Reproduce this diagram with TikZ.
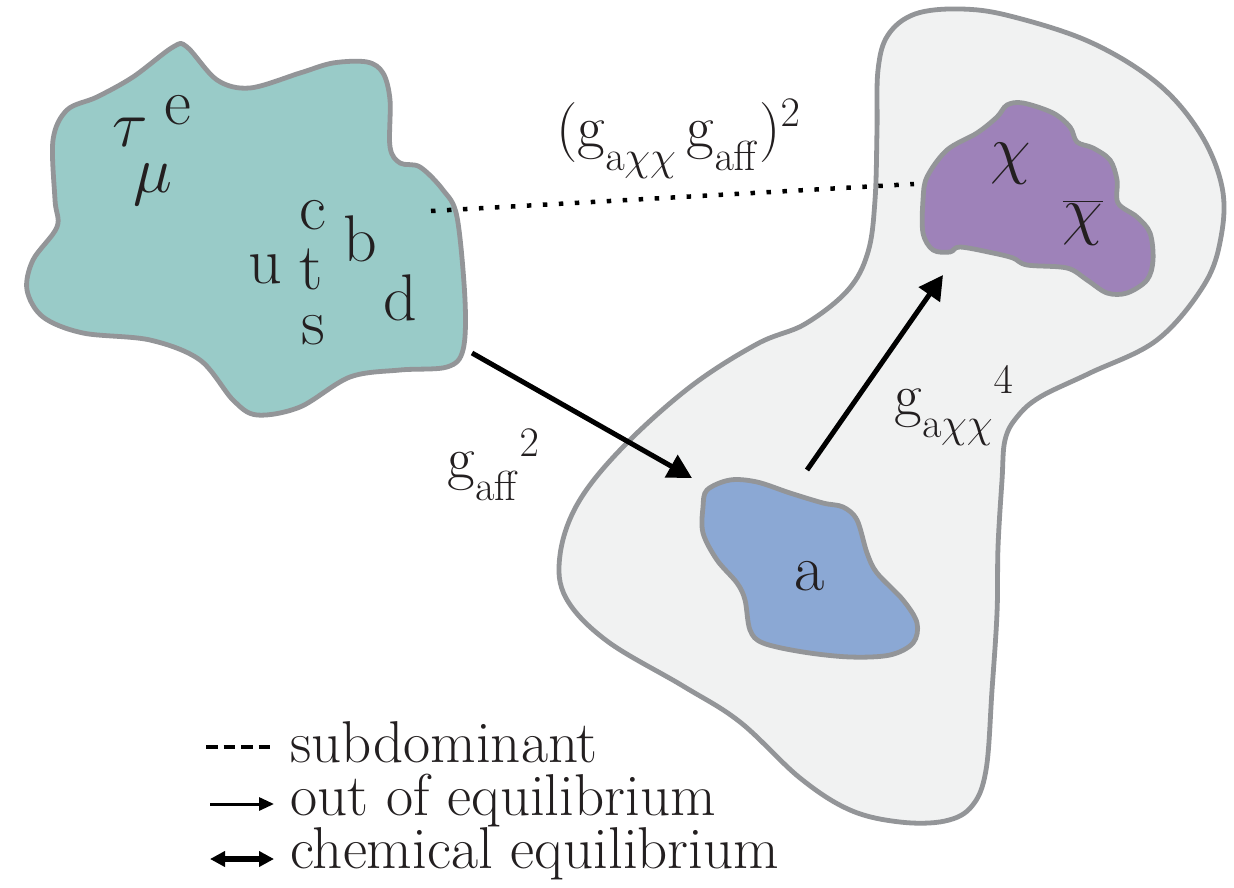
\RequirePackage{fix-cm}
\documentclass[tikz,border=0pt]{standalone}
\usetikzlibrary{arrows.meta}
\definecolor{bgrey}{RGB}{147,149,152}
\definecolor{cyanf}{RGB}{153,203,200}
\definecolor{purplef}{RGB}{158,130,185}
\definecolor{bluef}{RGB}{139,168,212}
\definecolor{greyf}{RGB}{241,242,242}
\definecolor{ink}{RGB}{35,31,32}
\newcommand\lsub[1]{_{\raisebox{-0.22em}{$\scriptstyle #1$}}}
\begin{document}
\begin{tikzpicture}[x=0.5pt,y=-0.5pt,
  blob/.style={draw=bgrey,line width=2.4pt,line join=round},
  lab/.style={font=\fontsize{33}{38}\selectfont,text=ink,inner sep=0pt,anchor=base},
  cpl/.style={font=\fontsize{30}{36}\selectfont,text=ink,inner sep=0pt,anchor=base west},
  leg/.style={font=\fontsize{29.5}{34}\selectfont,text=ink,inner sep=0pt,anchor=base west},
  flow/.style={line width=2.5pt,draw=black,-{Triangle[length=12pt,width=12.5pt]}},
  weak/.style={line width=2.25pt,dash pattern=on 2.25pt off 5.75pt}]
\useasboundingbox[fill=white] (0,0) rectangle (1234,887);

% big grey region
\draw[blob,fill=greyf] plot[smooth cycle,tension=0.6] coordinates {
 (878,70) (888,35) (915,14) (960,9) (1010,16) (1090,42) (1157,83) (1200,133)
 (1222,187) (1221,237) (1204,285) (1157,340) (1090,373) (1040,397) (1017,417)
 (1005,440) (1002,480) (998,547) (997,613) (992,690) (986,770) (972,806)
 (945,821) (900,822) (850,810) (800,778) (740,722) (683,686) (607,641)
 (566,598) (560,555) (578,503) (622,448) (690,387) (757,344) (805,324)
 (848,290) (868,252) (875,200) (877,130)};

% SM bath
\draw[blob,fill=cyanf] plot[smooth cycle,tension=0.55] coordinates {
 (67,110) (53,140) (55,200) (57,227) (33,260) (27,290) (43,317) (83,333)
 (150,340) (200,360) (233,400) (257,415) (300,407) (350,377) (400,370)
 (447,367) (463,350) (465,300) (457,217) (443,190) (420,167) (400,163)
 (390,147) (390,100) (383,73) (367,62) (333,63) (300,73) (250,88) (217,80)
 (187,47) (173,47) (133,77) (97,97)};

% dark sector
\draw[blob,fill=purplef] plot[smooth cycle,tension=0.55] coordinates {
 (923,200) (927,177) (947,150) (977,133) (997,117) (1007,105) (1023,103)
 (1053,113) (1070,127) (1077,142) (1093,148) (1110,160) (1117,180) (1118,203)
 (1137,217) (1150,233) (1153,260) (1147,280) (1127,293) (1107,293) (1087,280)
 (1067,268) (1027,265) (1013,258) (993,253) (960,247) (950,252) (933,250)
 (923,233)};

% axion
\draw[blob,fill=bluef] plot[smooth cycle,tension=0.55] coordinates {
 (707,490) (730,480) (757,482) (790,493) (823,503) (843,507) (857,520)
 (867,553) (877,573) (903,600) (917,623) (913,643) (890,655) (850,657)
 (803,652) (763,643) (750,630) (745,600) (737,583) (717,560) (703,533)
 (703,507)};

% particle labels
\node[lab] (tau) at (130,147) {$\tau$};
\node[lab] (e) at (178,125) {e};
\node[lab] (mu) at (153,193) {$\mu$};
\node[lab] (c) at (313,230) {c};
\node[lab] (b) at (360,262) {b};
\node[lab] (u) at (265,284) {u};
\node[lab] (t) at (311,290) {t};
\node[lab] (s) at (313,344) {s};
\node[lab] (d) at (400,320) {d};
\node[lab] (ax) at (810,590) {a};
\node[lab] (chi) at (1011,172) {$\chi$};
\node[lab] (chibar) at (1083,233) {$\overline{\chi}$};

% connector end points
\coordinate (smout) at (472,353);
\coordinate (axin) at (692,478);
\coordinate (axout) at (807,470);
\coordinate (chiin) at (943,275);
\coordinate (smdot) at (431,211);
\coordinate (chidot) at (914,184);

\draw[weak] (smdot) -- (chidot);
\draw[flow] (smout) -- (axin);
\draw[flow] (axout) -- (chiin);

% couplings
\node[cpl] (c1) at (556,148) {$(\mathrm{g}\lsub{\mathrm{a}\chi\chi}\,\mathrm{g}\lsub{\mathrm{aff}})^{2}$};
\node[cpl] (c2) at (447,478) {$\mathrm{g}\lsub{\mathrm{aff}}{}^{2}$};
\node[cpl] (c3) at (894,415) {$\mathrm{g}\lsub{\mathrm{a}\chi\chi}{}^{4}$};

% legend
\coordinate (l1a) at (206,747); \coordinate (l1b) at (271,747);
\coordinate (l2a) at (210,804); \coordinate (l2b) at (274,804);
\coordinate (l3a) at (210,859); \coordinate (l3b) at (274,859);
\draw[line width=1.6pt,dash pattern=on 5.75pt off 3pt] (l1a) -- (l1b);
\draw[line width=1.5pt,-{Triangle[length=7.5pt,width=6.5pt]}] (l2a) -- (l2b);
\draw[line width=3pt,{Triangle[length=7.5pt,width=7.5pt]}-{Triangle[length=7.5pt,width=7.5pt]}] (l3a) -- (l3b);
\node[leg] (t1) at (290,762) {subdominant};
\node[leg] (t2) at (290,815) {out of equilibrium};
\node[leg] (t3) at (290,868) {chemical equilibrium};
\end{tikzpicture}
\end{document}
